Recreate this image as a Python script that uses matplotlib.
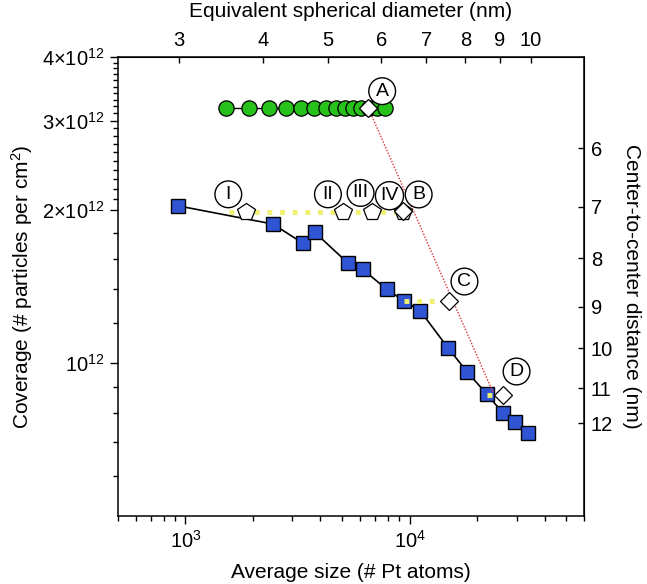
import numpy as np
import matplotlib
matplotlib.use('Agg')
import matplotlib.pyplot as plt
from matplotlib.ticker import FixedLocator, NullLocator, NullFormatter

plt.rcParams['font.family'] = ['Liberation Sans', 'DejaVu Sans']
plt.rcParams['mathtext.fontset'] = 'custom'
plt.rcParams['mathtext.rm'] = 'Liberation Sans'
plt.rcParams['mathtext.it'] = 'Liberation Sans:italic'
plt.rcParams['mathtext.bf'] = 'Liberation Sans:bold'
plt.rcParams['mathtext.default'] = 'regular'

# ── data ──
sq_size = [924, 2458, 3348, 3777, 5323, 6174, 7907, 9450, 11140, 14825,
           18030, 22150, 26120, 29650, 33800]
sq_cov = [2.04e12, 1.878e12, 1.721e12, 1.809e12, 1.572e12, 1.530e12, 1.398e12,
          1.327e12, 1.269e12, 1.073e12, 9.63e11, 8.69e11, 7.98e11, 7.68e11, 7.31e11]

green_size = [1521, 1914, 2352, 2802, 3281, 3728, 4218, 4690, 5146, 5605,
              6067, 6590, 7176, 7770]
green_cov = [3.18e12] * len(green_size)

pent_size = [1869, 5056, 6774, 9380]
pent_cov = [1.98e12, 1.98e12, 1.98e12, 1.98e12]
pent_labels = ['I', 'II', 'III', 'IV']

dia_size = [6542, 9382, 15020, 26020]
dia_cov = [3.178e12, 1.991e12, 1.326e12, 8.66e11]
dia_labels = ['A', 'B', 'C', 'D']

# yellow dotted guides: (start size, end size, coverage)
yellow_start = [1570, 9450, 22150]
yellow_end = [9382, 15020, 26020]
yellow_cov = [1.98e12, 1.326e12, 8.66e11]

# red dotted line
red_size = [6542, 23640]
red_cov = [3.178e12, 8.74e11]

# right axis: centre-to-centre distance ticks (nm) and where they sit
ctc_nm = [6, 7, 8, 9, 10, 11, 12]
ctc_cov = [2.645e12, 2.030e12, 1.608e12, 1.292e12, 1.070e12, 8.93e11, 7.62e11]

# top axis: equivalent spherical diameter ticks (nm)
diam_ticks = [3, 4, 5, 6, 7, 8, 9, 10]

fig = plt.figure(figsize=(6.47, 5.84), dpi=100)
ax = fig.add_axes([0.1824, 0.1156, 0.7202, 0.7868])

ax.set_xscale('log')
ax.set_yscale('log')
ax.set_xlim(500, 6e4)
ax.set_ylim(5e11, 4e12)

# ── lines ──
ax.plot(green_size, green_cov, color='black', lw=1.0, zorder=2)
ax.plot(green_size, green_cov, 'o', ms=11, mfc='#28c01a', mec='black',
        mew=0.9, zorder=3)

ax.plot(sq_size, sq_cov, color='black', lw=1.2, zorder=2)
ax.plot(sq_size, sq_cov, 's', ms=10.5, mfc='#2f55d4', mec='black',
        mew=1.0, zorder=3)

for x0, x1, y in zip(yellow_start, yellow_end, yellow_cov):
    ax.plot([x0, x1], [y, y], color='#f0f070', lw=3.5, ls=(0, (1, 1.6)),
            solid_capstyle='butt', dash_capstyle='butt', zorder=4)

ax.plot(red_size, red_cov, color='#e03030', lw=1.0, ls=(0, (1, 1.2)), zorder=4)

ax.plot(pent_size, pent_cov, 'p', ms=13, mfc='white', mec='black',
        mew=0.9, zorder=5, ls='none')
ax.plot(dia_size, dia_cov, 'D', ms=9.5, mfc='white', mec='black',
        mew=0.9, zorder=6, ls='none')

# ── circled labels ──
circ = dict(boxstyle='circle,pad=0.25', fc='white', ec='black', lw=1.0)
pent_off = [(-13, 13), (-11, 13), (-8, 14), (-10, 12)]
for s, c, t, off in zip(pent_size, pent_cov, pent_labels, pent_off):
    ax.annotate(t, (s, c), xytext=off, textcoords='offset points',
                ha='center', va='center', fontsize=14, bbox=circ, zorder=7)
dia_off = [(10, 12), (11, 12), (11, 14), (10, 17)]
for s, c, t, off in zip(dia_size, dia_cov, dia_labels, dia_off):
    ax.annotate(t, (s, c), xytext=off, textcoords='offset points',
                ha='center', va='center', fontsize=14, bbox=circ, zorder=7)

# ── ticks ──
ax.yaxis.set_major_locator(FixedLocator([1e12, 2e12, 3e12, 4e12]))
ax.set_yticklabels([r'$10^{12}$', r'$2{\times}10^{12}$',
                    r'$3{\times}10^{12}$', r'$4{\times}10^{12}$'])
ymin = [6e11, 7e11, 8e11, 9e11, 1.2e12, 1.4e12, 1.6e12, 1.8e12] + \
       [v * 1e11 for v in range(21, 30)] + [v * 1e11 for v in range(31, 40)]
ax.yaxis.set_minor_locator(FixedLocator(ymin))
ax.yaxis.set_minor_formatter(NullFormatter())

ax.xaxis.set_major_locator(FixedLocator([1e3, 1e4]))
ax.set_xticklabels([r'$10^3$', r'$10^4$'])

ax.tick_params(which='both', direction='out', labelsize=14.5, width=1.0)
ax.tick_params(which='major', length=6, pad=4)
ax.tick_params(which='minor', length=3.5)
for sp in ax.spines.values():
    sp.set_linewidth(1.1)

ax.set_xlabel('Average size (# Pt atoms)', fontsize=15, labelpad=8)
ax.set_ylabel(r'Coverage (# particles per cm$^2$)', fontsize=15, labelpad=5)

# top axis: equivalent spherical diameter, N = (pi/6) * 66.2 * d^3
k = np.pi / 6 * 66.2
top = ax.secondary_xaxis('top', functions=(lambda n: (np.maximum(n, 1e-9) / k) ** (1 / 3),
                                           lambda d: k * d ** 3))
top.xaxis.set_major_locator(FixedLocator(diam_ticks))
top.xaxis.set_minor_locator(NullLocator())
top.set_xticklabels([str(d) for d in diam_ticks])
top.tick_params(direction='in', length=4.5, width=1.0, labelsize=14.5, pad=5)
top.set_xlabel('Equivalent spherical diameter (nm)', fontsize=15, labelpad=10)

# right axis: centre-to-centre distance
right = ax.secondary_yaxis('right')
right.yaxis.set_major_locator(FixedLocator(ctc_cov))
right.yaxis.set_minor_locator(NullLocator())
right.set_yticklabels([str(d) for d in ctc_nm])
right.tick_params(direction='in', length=4.5, width=1.0, labelsize=14.5, pad=5)
right.set_ylabel('Center-to-center distance (nm)', fontsize=15,
                 rotation=270, labelpad=20)

fig.savefig('out.png', dpi=100, facecolor='white')
